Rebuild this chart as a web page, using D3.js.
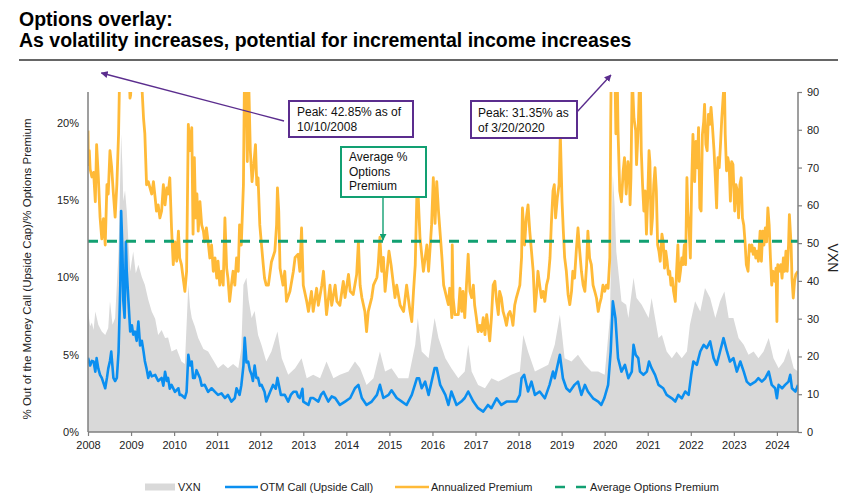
<!DOCTYPE html>
<html><head><meta charset="utf-8">
<script src="https://cdn.jsdelivr.net/npm/d3@7"></script>
<style>
body{margin:0;background:#fff;}
svg{font-family:"Liberation Sans", Arial, Helvetica, sans-serif;}
</style></head><body>
<svg id="chart" width="847" height="500"></svg>
<script>
// ---------------- DATA ----------------
const titleLines = ["Options overlay:", "As volatility increases, potential for incremental income increases"];
const yearTicks = d3.range(2008, 2025);
const leftTicks = [0, 0.05, 0.10, 0.15, 0.20];
const rightTicks = [0, 10, 20, 30, 40, 50, 60, 70, 80, 90];
const xDomain = [2008, 2024.49];
const leftMax = 0.22, rightMax = 90;
const avgPremium = 12.35; // %
const seriesNames = ["VXN", "OTM Call (Upside Call)", "Annualized Premium", "Average Options Premium"];
const leftAxisTitle = "% Out of the Money Call (Upside Cap)/% Options Premium";
const rightAxisTitle = "VXN";
const peak1 = {year: 2008.775, value: 42.85, lines: ["Peak: 42.85% as of", "10/10/2008"]};
const peak2 = {year: 2020.215, value: 31.35, lines: ["Peak: 31.35% as", "of 3/20/2020"]};
const avgLabel = ["Average %", "Options", "Premium"];

// Annualized premium (%)
const premYears = [2008.00,2008.01,2008.03,2008.05,2008.09,2008.13,2008.17,2008.20,2008.24,2008.28,2008.32,2008.36,2008.40,2008.44,2008.47,2008.51,2008.55,2008.59,2008.63,2008.67,2008.71,2008.74,2008.76,2008.775,2008.85,2008.93,2008.975,2008.99,2009.02,2009.15,2009.24,2009.29,2009.32,2009.36,2009.40,2009.44,2009.48,2009.52,2009.56,2009.59,2009.63,2009.67,2009.71,2009.75,2009.79,2009.83,2009.86,2009.90,2009.94,2009.98,2010.02,2010.06,2010.10,2010.13,2010.17,2010.21,2010.25,2010.29,2010.33,2010.37,2010.41,2010.44,2010.47,2010.50,2010.53,2010.56,2010.60,2010.64,2010.68,2010.71,2010.75,2010.79,2010.83,2010.87,2010.91,2010.95,2010.99,2011.02,2011.06,2011.10,2011.14,2011.18,2011.22,2011.25,2011.29,2011.33,2011.37,2011.41,2011.45,2011.49,2011.52,2011.56,2011.61,2011.63,2011.66,2011.70,2011.73,2011.77,2011.81,2011.85,2011.89,2011.92,2011.95,2011.99,2012.03,2012.07,2012.10,2012.14,2012.19,2012.26,2012.34,2012.38,2012.40,2012.43,2012.46,2012.53,2012.57,2012.61,2012.69,2012.77,2012.81,2012.88,2012.92,2012.96,2013.00,2013.08,2013.12,2013.19,2013.23,2013.31,2013.35,2013.43,2013.47,2013.54,2013.62,2013.66,2013.74,2013.78,2013.85,2013.93,2013.97,2014.05,2014.09,2014.16,2014.24,2014.28,2014.32,2014.36,2014.43,2014.47,2014.51,2014.59,2014.63,2014.71,2014.74,2014.78,2014.82,2014.86,2014.90,2014.99,2015.04,2015.13,2015.17,2015.25,2015.33,2015.40,2015.48,2015.52,2015.56,2015.60,2015.64,2015.67,2015.71,2015.79,2015.87,2015.91,2015.98,2016.02,2016.06,2016.10,2016.14,2016.22,2016.26,2016.33,2016.37,2016.40,2016.45,2016.46,2016.48,2016.52,2016.60,2016.64,2016.68,2016.71,2016.75,2016.79,2016.83,2016.87,2016.91,2016.95,2016.98,2017.02,2017.06,2017.10,2017.14,2017.18,2017.22,2017.26,2017.29,2017.33,2017.37,2017.41,2017.45,2017.49,2017.53,2017.56,2017.60,2017.64,2017.68,2017.72,2017.76,2017.80,2017.84,2017.87,2017.91,2017.95,2017.99,2018.03,2018.07,2018.09,2018.14,2018.18,2018.22,2018.26,2018.30,2018.34,2018.38,2018.42,2018.45,2018.49,2018.53,2018.57,2018.61,2018.65,2018.69,2018.73,2018.76,2018.80,2018.83,2018.86,2018.90,2018.94,2018.97,2019.01,2019.04,2019.07,2019.11,2019.15,2019.19,2019.23,2019.26,2019.30,2019.34,2019.38,2019.42,2019.46,2019.50,2019.54,2019.58,2019.61,2019.65,2019.69,2019.73,2019.77,2019.81,2019.85,2019.88,2019.92,2019.96,2020.00,2020.04,2020.08,2020.12,2020.14,2020.16,2020.215,2020.23,2020.26,2020.29,2020.31,2020.35,2020.39,2020.43,2020.46,2020.50,2020.54,2020.57,2020.59,2020.61,2020.64,2020.68,2020.72,2020.74,2020.78,2020.81,2020.83,2020.85,2020.88,2020.91,2020.94,2020.97,2021.00,2021.03,2021.05,2021.08,2021.11,2021.14,2021.17,2021.20,2021.23,2021.26,2021.29,2021.33,2021.36,2021.39,2021.42,2021.45,2021.48,2021.51,2021.54,2021.57,2021.60,2021.64,2021.67,2021.70,2021.73,2021.76,2021.79,2021.82,2021.85,2021.88,2021.91,2021.93,2021.96,2021.99,2022.02,2022.05,2022.09,2022.12,2022.15,2022.18,2022.21,2022.24,2022.27,2022.30,2022.32,2022.35,2022.38,2022.41,2022.44,2022.47,2022.50,2022.54,2022.57,2022.60,2022.63,2022.66,2022.69,2022.72,2022.75,2022.78,2022.80,2022.83,2022.86,2022.89,2022.92,2022.95,2022.98,2023.02,2023.05,2023.08,2023.11,2023.14,2023.17,2023.20,2023.23,2023.26,2023.29,2023.33,2023.36,2023.39,2023.42,2023.45,2023.48,2023.51,2023.54,2023.57,2023.61,2023.64,2023.67,2023.70,2023.73,2023.76,2023.79,2023.82,2023.85,2023.88,2023.91,2023.95,2023.98,2024.00,2024.02,2024.05,2024.09,2024.12,2024.15,2024.18,2024.21,2024.24,2024.27,2024.29,2024.33,2024.35,2024.38,2024.41,2024.44,2024.49];
const premValues = [19.5,17.3,18.2,17.0,16.5,16.8,14.9,18.6,16.5,13.9,12.5,13.8,12.1,16.0,15.4,18.2,17.1,15.4,13.9,16.0,19.3,24.0,35.0,42.85,32.0,26.0,21.6,21.8,24.0,25.0,23.0,20.3,19.3,16.0,16.2,15.8,15.4,16.2,15.15,14.3,14.7,13.85,14.3,16.0,14.7,15.8,15.4,16.45,13.2,10.83,12.3,11.05,13.0,11.26,10.83,9.96,9.1,10.4,19.9,18.2,19.7,12.8,17.75,13.85,15.4,13.0,14.9,13.4,13.0,12.3,13.2,12.3,11.26,12.1,10.4,11.26,9.96,11.05,9.5,10.4,9.5,13.85,10.6,9.96,8.45,9.5,10.4,9.5,11.26,10.4,13.4,12.1,16.0,21.85,25.0,17.5,23.0,18.2,16.2,17.3,18.6,16.0,16.45,13.4,12.1,10.83,9.96,9.5,9.5,11.0,11.7,13.4,15.8,14.3,10.6,9.5,10.4,8.45,9.1,10.4,11.3,11.5,10.4,13.2,9.5,8.45,7.8,9.1,7.8,9.3,8.2,9.5,10.4,7.6,9.5,8.2,9.5,8.45,8.2,9.75,8.7,10.2,9.1,8.9,10.2,12.3,9.5,8.7,7.8,6.5,7.8,8.7,9.5,10.0,10.8,12.6,10.4,11.3,9.1,11.7,10.8,8.7,9.5,8.2,7.8,9.5,7.8,7.15,9.1,10.8,15.6,15.2,12.6,10.4,12.1,10.4,13.4,16.45,13.5,16.2,14.3,11.3,9.5,8.7,8.24,9.3,7.4,12.1,8.7,7.6,7.6,9.3,7.8,9.1,7.4,9.5,11.5,9.1,8.7,9.5,8.2,7.4,6.5,6.9,6.5,7.4,6.3,7.6,6.9,5.9,7.4,9.5,9.75,8.45,7.6,9.1,8.7,7.8,7.4,6.9,7.6,7.8,7.4,6.9,8.2,8.7,9.1,9.5,11.3,14.5,12.1,13.85,14.7,13.0,11.7,10.4,7.8,9.1,10.4,9.5,8.7,9.1,8.45,9.5,9.96,11.26,13.4,15.6,16.0,13.85,15.15,16.0,19.26,14.9,13.0,11.3,10.4,8.9,8.24,9.1,10.4,9.96,11.7,13.2,11.7,10.4,9.5,9.1,10.8,13.0,11.26,10.83,9.5,9.1,8.67,7.8,8.24,8.67,9.5,9.1,9.5,9.3,11.3,20.0,26.0,31.35,25.0,19.3,23.5,19.5,15.6,14.9,16.9,17.75,15.4,17.5,16.9,14.7,16.45,23.0,20.3,19.5,17.3,19.7,23.0,22.5,18.2,16.0,14.3,15.6,12.8,15.15,18.2,17.5,12.8,13.85,16.0,17.1,15.6,12.1,11.7,11.05,12.8,12.3,10.6,11.7,11.05,10.2,10.4,9.5,9.96,9.1,8.45,10.4,12.1,9.75,10.4,11.26,10.83,12.1,10.83,16.45,14.3,13.2,11.26,16.0,19.26,16.2,18.8,17.1,19.7,14.5,14.3,19.26,20.1,21.2,18.6,18.2,20.55,19.9,21.0,19.9,18.2,16.45,14.5,17.75,17.1,18.6,20.3,21.6,22.8,19.26,16.9,17.75,17.3,14.94,17.5,17.3,14.3,16.0,15.6,13.85,16.0,16.45,13.85,13.4,12.3,10.83,10.4,12.1,11.7,12.1,11.5,11.9,11.26,11.7,11.05,13.0,11.05,13.0,12.1,13.2,12.3,14.5,13.4,11.26,9.5,10.4,9.75,10.6,7.15,10.83,10.4,10.83,9.96,11.26,10.4,11.7,10.4,12.1,14.07,12.1,9.96,8.67,9.75,10.2,10.4];

// OTM call / upside cap (%)
const otmYears = [2008.00,2008.05,2008.09,2008.13,2008.17,2008.20,2008.24,2008.28,2008.32,2008.40,2008.44,2008.47,2008.51,2008.54,2008.59,2008.63,2008.67,2008.71,2008.75,2008.77,2008.80,2008.82,2008.85,2008.88,2008.90,2008.94,2008.98,2009.02,2009.05,2009.09,2009.13,2009.17,2009.21,2009.25,2009.29,2009.32,2009.36,2009.40,2009.44,2009.48,2009.56,2009.63,2009.71,2009.75,2009.79,2009.83,2009.86,2009.90,2009.94,2010.02,2010.10,2010.13,2010.17,2010.25,2010.29,2010.33,2010.37,2010.41,2010.44,2010.48,2010.52,2010.60,2010.64,2010.71,2010.79,2010.87,2010.95,2011.02,2011.10,2011.18,2011.25,2011.33,2011.41,2011.45,2011.52,2011.56,2011.61,2011.64,2011.68,2011.72,2011.76,2011.80,2011.83,2011.87,2011.91,2011.95,2011.99,2012.03,2012.10,2012.14,2012.23,2012.30,2012.36,2012.40,2012.48,2012.57,2012.65,2012.71,2012.77,2012.84,2012.88,2012.92,2012.98,2013.00,2013.12,2013.17,2013.23,2013.35,2013.41,2013.47,2013.58,2013.66,2013.74,2013.85,2013.97,2014.09,2014.20,2014.28,2014.36,2014.47,2014.59,2014.71,2014.78,2014.86,2014.98,2015.05,2015.17,2015.29,2015.40,2015.52,2015.64,2015.69,2015.75,2015.83,2015.91,2016.05,2016.10,2016.18,2016.30,2016.37,2016.44,2016.56,2016.67,2016.75,2016.83,2016.95,2017.06,2017.18,2017.29,2017.37,2017.49,2017.60,2017.72,2017.83,2017.95,2018.03,2018.07,2018.13,2018.22,2018.30,2018.38,2018.49,2018.61,2018.72,2018.80,2018.84,2018.96,2019.03,2019.11,2019.19,2019.30,2019.38,2019.46,2019.54,2019.61,2019.73,2019.85,2019.92,2019.99,2020.08,2020.14,2020.19,2020.25,2020.31,2020.39,2020.47,2020.55,2020.63,2020.67,2020.72,2020.78,2020.82,2020.90,2020.98,2021.03,2021.09,2021.17,2021.25,2021.36,2021.44,2021.56,2021.64,2021.71,2021.79,2021.87,2021.95,2022.01,2022.06,2022.14,2022.22,2022.30,2022.37,2022.45,2022.53,2022.60,2022.68,2022.76,2022.84,2022.91,2022.99,2023.07,2023.15,2023.23,2023.30,2023.38,2023.50,2023.57,2023.65,2023.73,2023.81,2023.88,2023.96,2024.00,2024.04,2024.12,2024.19,2024.27,2024.31,2024.35,2024.43,2024.49];
const otmValues = [4.8,4.3,4.6,4.56,3.9,4.78,4.1,3.7,3.5,2.83,3.5,4.1,4.6,5.2,3.5,3.3,3.5,5.2,9.5,14.3,11.7,8.5,7.4,12.3,10.4,8.45,6.5,6.9,6.3,6.5,5.9,7.15,5.6,5.9,5.2,4.6,4.1,3.5,3.9,3.6,3.7,3.3,3.5,3.0,3.9,3.3,3.5,2.8,3.05,2.6,2.83,2.4,2.4,2.2,2.6,5.0,4.3,4.56,3.5,3.5,4.0,3.5,3.0,3.05,2.6,2.83,2.6,2.4,2.5,2.2,2.4,1.97,2.2,2.83,2.4,3.0,4.3,6.1,4.5,4.56,4.0,3.7,3.3,4.3,3.5,3.5,3.0,3.05,2.6,1.97,2.6,3.05,2.8,3.5,2.4,2.4,1.97,2.4,2.6,2.6,2.3,2.2,2.8,1.97,1.75,2.2,2.2,1.97,2.4,2.6,1.97,2.3,2.2,1.75,1.97,2.2,2.83,3.05,2.2,1.75,1.97,2.4,3.05,2.2,2.4,2.7,2.2,1.97,1.75,2.4,3.48,3.48,2.83,3.26,2.4,4.13,4.13,3.05,2.4,1.75,2.62,1.75,1.97,2.2,2.62,1.97,1.54,1.32,1.75,1.54,2.18,1.75,1.97,1.97,1.97,2.4,3.48,3.7,2.62,3.26,2.4,2.62,2.18,3.05,3.91,3.48,4.99,3.48,2.83,2.62,3.05,3.26,2.4,3.05,2.62,2.18,1.97,1.75,2.18,3.05,5.21,8.45,7.37,4.78,3.91,4.34,3.48,3.91,5.64,4.99,4.78,3.91,3.7,3.91,4.56,4.13,3.7,3.05,2.83,2.4,2.18,1.97,2.4,2.18,2.62,2.4,3.7,4.56,4.34,5.21,5.64,5.43,5.86,4.78,4.34,5.21,6.07,5.21,4.56,4.78,3.91,4.56,3.91,3.26,3.05,3.26,3.48,3.26,3.48,3.91,3.05,2.83,2.18,3.05,2.83,3.05,3.26,3.7,2.83,2.62,3.05];

// VXN level (right axis)
const vxnYears = [2008.00,2008.05,2008.09,2008.13,2008.17,2008.24,2008.32,2008.40,2008.47,2008.51,2008.57,2008.63,2008.71,2008.77,2008.80,2008.82,2008.86,2008.90,2008.94,2008.98,2009.05,2009.11,2009.17,2009.25,2009.32,2009.40,2009.48,2009.56,2009.63,2009.71,2009.79,2009.86,2009.94,2010.06,2010.17,2010.25,2010.33,2010.37,2010.41,2010.48,2010.56,2010.68,2010.79,2010.91,2011.02,2011.14,2011.25,2011.37,2011.49,2011.56,2011.61,2011.68,2011.73,2011.80,2011.87,2011.95,2012.03,2012.14,2012.26,2012.40,2012.50,2012.65,2012.81,2012.96,2013.08,2013.23,2013.39,2013.54,2013.70,2013.85,2014.05,2014.20,2014.32,2014.47,2014.63,2014.78,2014.90,2015.05,2015.21,2015.44,2015.60,2015.66,2015.75,2015.91,2016.05,2016.14,2016.30,2016.44,2016.60,2016.75,2016.83,2016.91,2017.06,2017.22,2017.37,2017.53,2017.68,2017.83,2018.03,2018.11,2018.22,2018.38,2018.53,2018.69,2018.84,2018.96,2019.07,2019.23,2019.38,2019.54,2019.69,2019.85,2020.00,2020.12,2020.19,2020.23,2020.27,2020.39,2020.50,2020.55,2020.67,2020.74,2020.86,2021.02,2021.09,2021.17,2021.25,2021.33,2021.44,2021.56,2021.67,2021.79,2021.91,2021.98,2022.10,2022.22,2022.33,2022.45,2022.57,2022.68,2022.78,2022.88,2022.99,2023.11,2023.23,2023.34,2023.46,2023.57,2023.69,2023.81,2023.92,2024.04,2024.16,2024.27,2024.39,2024.49];
const vxnValues = [32,28,29,27,31.9,28.4,26.6,25.7,27.5,34.6,28.4,30.15,47.8,78.8,70,61.1,64,58.5,50,42.5,47.8,42,44.3,41,39,35,31.9,30,25.7,27,24.85,25,21.3,22,18.66,18,39,33,30.15,28,24.85,22,21.3,19,16.9,18,16.9,18,16.9,22,39,40.8,35,30.15,32,25.7,23,18.66,21.3,26.6,19.55,15.13,16.9,19.55,14.24,15.13,14.24,18.66,14.24,15.13,16,18.66,16.9,12.47,14.24,21.3,16,16.9,14.24,14.24,23.1,30.15,21.3,19.55,30.15,24.85,19.55,16.9,14.24,16,23.1,16,12.47,11.6,14.24,13.36,14.24,15.13,16,25.7,21.3,16,16.9,17.78,23.1,31.04,19.55,18.66,20.43,17.78,16,16,15.13,30.15,68,60,47.8,34.6,33.7,30.15,40.8,35.5,33.7,30.15,35.5,30.15,24.85,25.7,21.3,19.55,21.3,19.55,21.3,28.4,34.6,31.9,38.1,35.5,30.15,34.6,37.2,30.15,30.15,24.85,23.1,20.43,21.3,19.55,21.3,24.85,19.55,16.9,18.66,22.2,16.9,16];

// ---------------- CHART ----------------
const svg = d3.select("#chart");
const m = {left: 88, right: 798, top: 92, bottom: 432};

const x = d3.scaleLinear().domain(xDomain).range([m.left, m.right]);
const yL = d3.scaleLinear().domain([0, leftMax]).range([m.bottom, m.top]);
const yR = d3.scaleLinear().domain([0, rightMax]).range([m.bottom, m.top]);

const C = {gray: "#d9d9d9", blue: "#0b8ff0", orange: "#ffba38", green: "#12a072", purple: "#5b2d8e", axis: "#7f7f7f", text: "#222"};

// Title
svg.append("g").selectAll("text").data(titleLines).join("text")
  .attr("x", 19).attr("y", (d, i) => 26 + i * 20.5)
  .attr("font-size", 19.5).attr("font-weight", "bold").attr("fill", "#000")
  .text(d => d);
svg.append("line").attr("x1", 19).attr("x2", 838).attr("y1", 60).attr("y2", 60)
  .attr("stroke", "#333").attr("stroke-width", 1.5);

// defs
const defs = svg.append("defs");
defs.append("clipPath").attr("id", "plotclip").append("rect")
  .attr("x", m.left).attr("y", m.top).attr("width", m.right - m.left).attr("height", m.bottom - m.top);
function marker(id, color) {
  defs.append("marker").attr("id", id).attr("viewBox", "0 0 10 10")
    .attr("refX", 9).attr("refY", 5).attr("markerWidth", 7).attr("markerHeight", 7)
    .attr("markerUnits", "userSpaceOnUse").attr("orient", "auto")
    .append("path").attr("d", "M0,0 L10,5 L0,10 z").attr("fill", color);
}
marker("arrP", C.purple);
marker("arrG", C.green);

const plot = svg.append("g").attr("clip-path", "url(#plotclip)");

// VXN area
const vxnData = vxnYears.map((t, i) => ({t, v: vxnValues[i]}));
plot.append("path").datum(vxnData)
  .attr("fill", C.gray)
  .attr("d", d3.area().x(d => x(d.t)).y0(yR(0)).y1(d => yR(d.v)));

// OTM line
const otmData = otmYears.map((t, i) => ({t, v: otmValues[i] / 100}));
plot.append("path").datum(otmData)
  .attr("fill", "none").attr("stroke", C.blue).attr("stroke-width", 2.6)
  .attr("stroke-linejoin", "round")
  .attr("d", d3.line().x(d => x(d.t)).y(d => yL(d.v)));

// Premium line
const premData = premYears.map((t, i) => ({t, v: premValues[i] / 100}));
plot.append("path").datum(premData)
  .attr("fill", "none").attr("stroke", C.orange).attr("stroke-width", 2.8)
  .attr("stroke-linejoin", "round")
  .attr("d", d3.line().x(d => x(d.t)).y(d => yL(d.v)));

// Average line
plot.append("line")
  .attr("x1", m.left).attr("x2", m.right)
  .attr("y1", yL(avgPremium / 100)).attr("y2", yL(avgPremium / 100))
  .attr("stroke", C.green).attr("stroke-width", 3).attr("stroke-dasharray", "10,9");

// Axes
const axB = svg.append("g").attr("transform", `translate(0,${m.bottom})`)
  .call(d3.axisBottom(x).tickValues(yearTicks).tickFormat(d3.format("d")).tickSize(4).tickPadding(5));
const axL = svg.append("g").attr("transform", `translate(${m.left},0)`)
  .call(d3.axisLeft(yL).tickValues(leftTicks).tickFormat(d3.format(".0%")).tickSize(0).tickPadding(9));
const axR = svg.append("g").attr("transform", `translate(${m.right},0)`)
  .call(d3.axisRight(yR).tickValues(rightTicks).tickSize(4).tickPadding(5));
[axB, axL, axR].forEach(a => {
  a.select(".domain").attr("stroke", C.axis).attr("stroke-width", 1.5);
  a.selectAll(".tick line").attr("stroke", C.axis).attr("stroke-width", 1.2);
  a.selectAll("text").attr("font-size", 11).attr("fill", C.text)
    .attr("font-family", '"Liberation Sans", Arial, sans-serif');
});
axB.select(".domain").attr("d", `M${m.left},0H${m.right}`);
axR.select(".domain").attr("d", `M0,${m.top}V${m.bottom}`);
axL.select(".domain").attr("d", `M0,${m.top}V${m.bottom}`);

// Axis titles
svg.append("text").attr("transform", "translate(31,269) rotate(-90)")
  .attr("text-anchor", "middle").attr("font-size", 11.5).attr("fill", C.text).text(leftAxisTitle);
svg.append("text").attr("transform", "translate(828,258) rotate(90)")
  .attr("text-anchor", "middle").attr("font-size", 14).attr("fill", C.text).text(rightAxisTitle);

// Annotations
function box(x0, y0, w, h, color, lines, tx, ty, lh) {
  svg.append("rect").attr("x", x0).attr("y", y0).attr("width", w).attr("height", h)
    .attr("fill", "#fff").attr("stroke", color).attr("stroke-width", 2);
  svg.append("g").selectAll("text").data(lines).join("text")
    .attr("x", tx).attr("y", (d, i) => ty + i * lh)
    .attr("font-size", 12).attr("fill", "#111").text(d => d);
}
svg.append("line").attr("x1", 284).attr("y1", 121).attr("x2", x(peak1.year) - 20).attr("y2", 73)
  .attr("stroke", C.purple).attr("stroke-width", 1.4).attr("marker-end", "url(#arrP)");
box(289, 101, 124, 36, C.purple, peak1.lines, 297, 116, 14.5);
svg.append("line").attr("x1", 576).attr("y1", 113).attr("x2", x(peak2.year) - 3).attr("y2", 75)
  .attr("stroke", C.purple).attr("stroke-width", 1.4).attr("marker-end", "url(#arrP)");
box(471, 101, 106, 37, C.purple, peak2.lines, 478, 117, 14.5);
svg.append("line").attr("x1", 383).attr("y1", 197).attr("x2", 383).attr("y2", yL(avgPremium / 100) - 1)
  .attr("stroke", C.green).attr("stroke-width", 1.4).attr("marker-end", "url(#arrG)");
box(341, 147, 85, 50, C.green, avgLabel, 349, 161, 14.5);

// Legend
const lg = svg.append("g");
const ly = 487;
lg.append("rect").attr("x", 145).attr("y", ly - 3.5).attr("width", 30).attr("height", 7).attr("fill", C.gray);
lg.append("line").attr("x1", 225).attr("x2", 258).attr("y1", ly).attr("y2", ly).attr("stroke", C.blue).attr("stroke-width", 2.6);
lg.append("line").attr("x1", 395).attr("x2", 429).attr("y1", ly).attr("y2", ly).attr("stroke", C.orange).attr("stroke-width", 2.6);
lg.append("line").attr("x1", 555).attr("x2", 587).attr("y1", ly).attr("y2", ly).attr("stroke", C.green).attr("stroke-width", 2.6).attr("stroke-dasharray", "10,11");
const lxs = [178, 260, 431, 590];
lg.selectAll("text").data(seriesNames).join("text")
  .attr("x", (d, i) => lxs[i]).attr("y", ly + 4)
  .attr("font-size", 11).attr("fill", C.text).text(d => d);
</script>
</body></html>
